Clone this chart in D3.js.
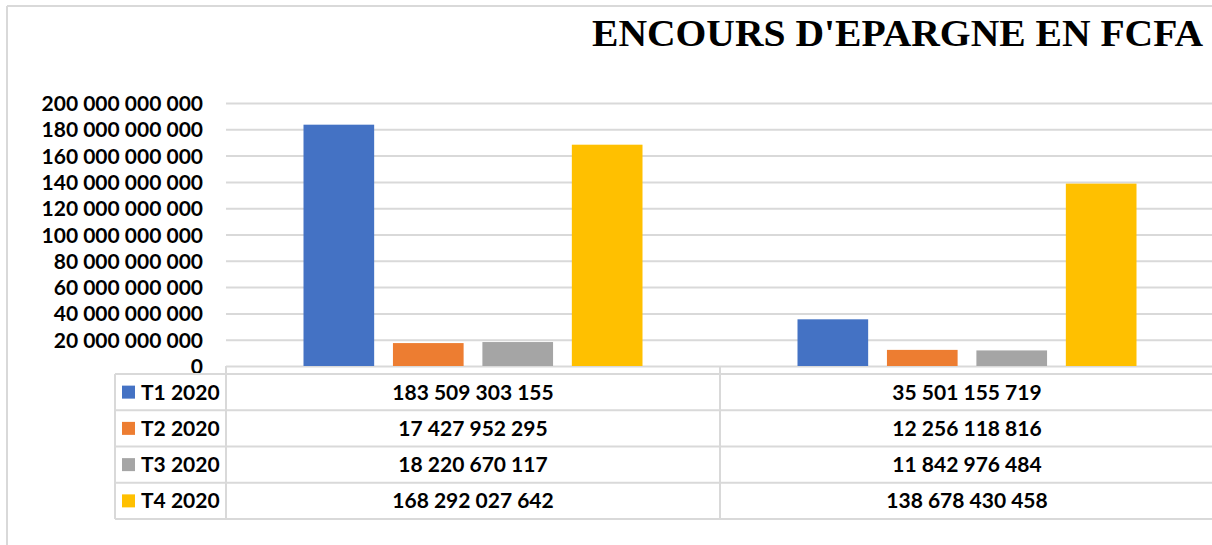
<!DOCTYPE html>
<html>
<head>
<meta charset="utf-8">
<script src="https://cdn.jsdelivr.net/npm/d3@7"></script>
<style>
  body { margin: 0; background: #fff; }
  .lbl { font-family: Lato, "Open Sans", sans-serif; font-weight: bold; font-size: 21px; fill: #000; }
  .title { font-family: "Liberation Serif", "Times New Roman", serif; font-weight: bold; font-size: 38px; fill: #000; }
</style>
</head>
<body>
<div id="chart"></div>
<script>
// data
var categories = ["c1", "c2"]; // no category names shown
var series = ["T1 2020", "T2 2020", "T3 2020", "T4 2020"];
var colors = ["#4472C4", "#ED7D31", "#A5A5A5", "#FFC000"];
var t1 = [183509303155, 35501155719];
var t2 = [17427952295, 12256118816];
var t3 = [18220670117, 11842976484];
var t4 = [168292027642, 138678430458];
var yTicks = [0, 20e9, 40e9, 60e9, 80e9, 100e9, 120e9, 140e9, 160e9, 180e9, 200e9];

var values = [t1, t2, t3, t4];

var W = 1212, H = 545;
var plotLeft = 226, plotRight = 1214, plotTop = 103, plotBottom = 366;
var tableTop = 374, rowH = 36.25, tableLeft = 115;
var gridColor = "#d9d9d9";

var locale = d3.formatLocale({ decimal: ",", thousands: " ", grouping: [3], currency: ["", ""] });
var fmt = locale.format(",.0f");

var svg = d3.select("#chart").append("svg")
    .attr("width", W)
    .attr("height", H);

// outer frame (top and left visible)
svg.append("line").attr("x1", 7).attr("x2", W).attr("y1", 6).attr("y2", 6)
    .attr("stroke", gridColor).attr("stroke-width", 2);
svg.append("line").attr("x1", 7).attr("x2", 7).attr("y1", 6).attr("y2", H)
    .attr("stroke", gridColor).attr("stroke-width", 2);

svg.append("text")
    .attr("class", "title")
    .attr("x", 592)
    .attr("y", 46)
    .attr("textLength", 611)
    .attr("lengthAdjust", "spacingAndGlyphs")
    .text("ENCOURS D'EPARGNE EN FCFA");

var y = d3.scaleLinear().domain([0, 200e9]).range([plotBottom, plotTop]);

var x0 = d3.scaleBand().domain(categories).range([plotLeft, plotRight]).padding(0);
var x1 = d3.scaleBand().domain(series)
    .range([77.5, x0.bandwidth() - 77.5])
    .paddingInner(0.21)
    .paddingOuter(0);

// gridlines
var grid = svg.append("g")
    .attr("transform", "translate(" + plotLeft + ",0)")
    .call(d3.axisLeft(y).tickValues(yTicks).tickSize(-(plotRight - plotLeft)).tickFormat(""));
grid.select(".domain").remove();
grid.selectAll("line").attr("stroke", gridColor).attr("stroke-width", 2);

// y labels
var yAxis = svg.append("g")
    .attr("transform", "translate(203,0)")
    .call(d3.axisLeft(y).tickValues(yTicks).tickSize(0).tickPadding(0).tickFormat(fmt));
yAxis.select(".domain").remove();
yAxis.selectAll("text").attr("class", "lbl").attr("dy", "0.36em");

// bars
var groups = svg.append("g").selectAll("g")
    .data(categories)
    .enter().append("g")
    .attr("transform", function(d) { return "translate(" + x0(d) + ",0)"; });

groups.selectAll("rect")
    .data(function(d, ci) { return series.map(function(s, si) { return { s: s, v: values[si][ci], c: colors[si] }; }); })
    .enter().append("rect")
    .attr("x", function(d) { return x1(d.s); })
    .attr("width", x1.bandwidth())
    .attr("y", function(d) { return y(d.v); })
    .attr("height", function(d) { return plotBottom - y(d.v); })
    .attr("fill", function(d) { return d.c; });

// data table
var tableBottom = tableTop + rowH * series.length;
var tbl = svg.append("g").attr("stroke", gridColor).attr("stroke-width", 2);

// horizontal rules
d3.range(series.length + 1).forEach(function(i) {
    tbl.append("line")
        .attr("x1", tableLeft).attr("x2", W)
        .attr("y1", tableTop + i * rowH).attr("y2", tableTop + i * rowH);
});
// vertical rules
tbl.append("line").attr("x1", tableLeft).attr("x2", tableLeft).attr("y1", tableTop).attr("y2", tableBottom);
x0.domain().forEach(function(c) {
    tbl.append("line").attr("x1", x0(c)).attr("x2", x0(c)).attr("y1", plotBottom).attr("y2", tableBottom);
});

series.forEach(function(s, si) {
    var cy = tableTop + (si + 0.5) * rowH;
    svg.append("rect")
        .attr("x", 122).attr("y", cy - 6.5)
        .attr("width", 13).attr("height", 13)
        .attr("fill", colors[si]);
    svg.append("text")
        .attr("class", "lbl")
        .attr("x", 141).attr("y", cy)
        .attr("dy", "0.36em")
        .text(s);
    categories.forEach(function(c, ci) {
        svg.append("text")
            .attr("class", "lbl")
            .attr("x", x0(c) + x0.bandwidth() / 2)
            .attr("y", cy)
            .attr("dy", "0.36em")
            .attr("text-anchor", "middle")
            .text(fmt(values[si][ci]));
    });
});
</script>
</body>
</html>
